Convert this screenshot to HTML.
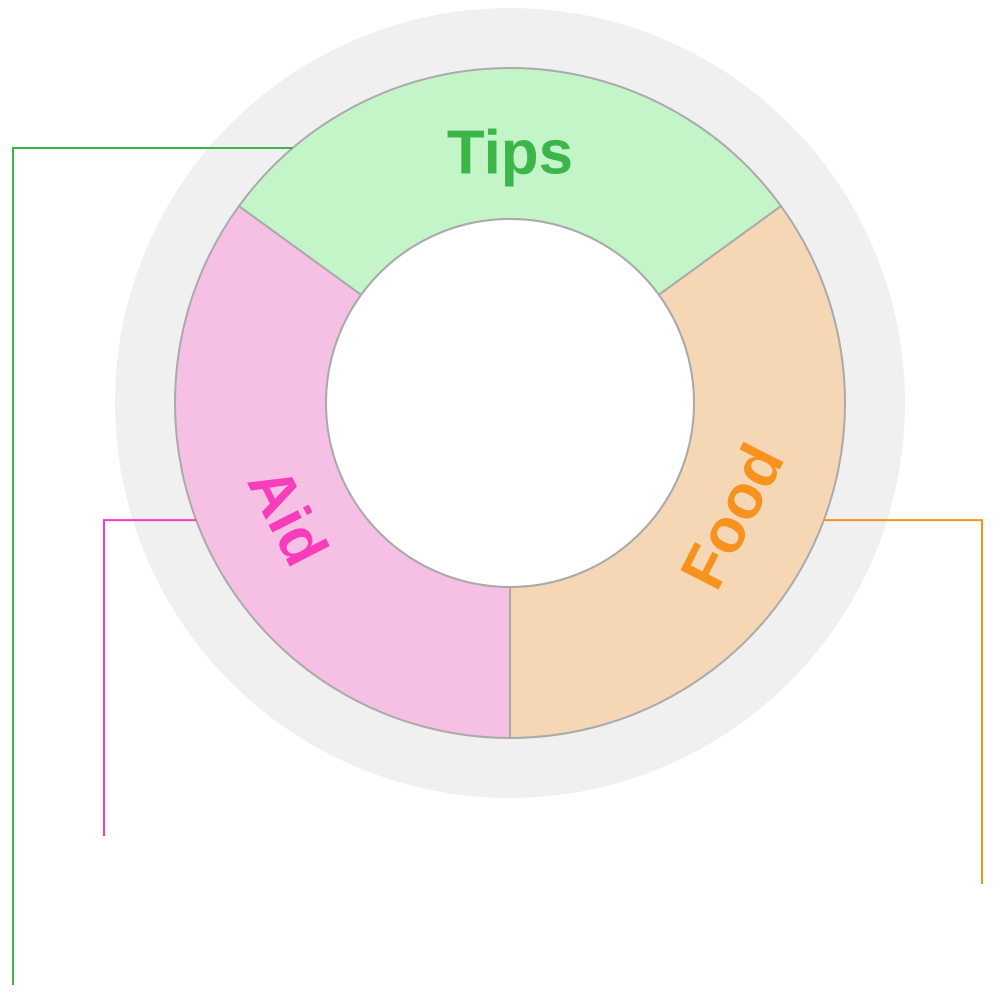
<!DOCTYPE html>
<html><head><meta charset="utf-8"><style>
html,body{margin:0;padding:0;background:#fff;}
svg{display:block;}
text{font-family:"Liberation Sans",Arial,sans-serif;font-weight:bold;}
</style></head><body>
<svg id="chart" width="1000" height="1000" viewBox="0 0 1000 1000" xmlns="http://www.w3.org/2000/svg">
<circle cx="510" cy="403" r="395" fill="#eff0ef"/>
<g id="slices"></g>
<circle cx="510" cy="403" r="184" fill="#ffffff" stroke="#aaaaaa" stroke-width="2"/>
<g id="labels"></g>
</svg>
<script>
const categories = ["Aid", "Tips", "Food"];
const values = [35, 30, 35];
const fills = ["#f6c0e5", "#c4f5c9", "#f6d7b5"];
const textColors = ["#f73cbc", "#3cb54a", "#f7921e"];
const leaderX = [104, 13, 982];
const leaderEndY = [836, 985, 884];

const cx = 510, cy = 403, R = 335, r = 184, labelR = 250, leaderR = 258;
const startDeg = 180;
const NS = "http://www.w3.org/2000/svg";
const total = values.reduce((a, b) => a + b, 0);
function pt(deg, rad) { const a = deg * Math.PI / 180; return [cx + rad * Math.sin(a), cy - rad * Math.cos(a)]; }
const gS = document.getElementById("slices"), gL = document.getElementById("labels");
let acc = startDeg;
categories.forEach((c, i) => {
  const sweep = values[i] / total * 360;
  const a0 = acc, a1 = acc + sweep; acc = a1;
  const large = sweep > 180 ? 1 : 0;
  const [x0, y0] = pt(a0, R), [x1, y1] = pt(a1, R), [x2, y2] = pt(a1, r), [x3, y3] = pt(a0, r);
  const p = document.createElementNS(NS, "path");
  p.setAttribute("d", `M${x0},${y0} A${R},${R} 0 ${large} 1 ${x1},${y1} L${x2},${y2} A${r},${r} 0 ${large} 0 ${x3},${y3} Z`);
  p.setAttribute("fill", fills[i]); p.setAttribute("stroke", "#aaaaaa"); p.setAttribute("stroke-width", "2");
  
  
  gS.appendChild(p);
  const mid = (a0 + a1) / 2;
  const [lx, ly] = pt(mid, labelR);
  let rot = mid % 360; if (rot > 90 && rot < 270) rot -= 180; if (rot >= 270) rot -= 360;
  const t = document.createElementNS(NS, "text");
  t.setAttribute("x", lx); t.setAttribute("y", ly);
  t.setAttribute("text-anchor", "middle"); t.setAttribute("dominant-baseline", "central");
  t.setAttribute("font-size", "62"); t.setAttribute("fill", textColors[i]);
  t.setAttribute("transform", `rotate(${rot} ${lx} ${ly})`);
  t.textContent = c;
  
  
  gL.appendChild(t);
  const ey = pt(mid, leaderR)[1] + (Math.abs(mid % 360 - 0) < 1 || Math.abs(mid % 360 - 360) < 1 ? 3 : 0);
  const side = leaderX[i] < cx ? -1 : 1;
  const ex = cx + side * Math.sqrt(Math.max(0, R * R - (ey - cy) * (ey - cy)));
  const l = document.createElementNS(NS, "polyline");
  l.setAttribute("points", `${ex},${ey} ${leaderX[i]},${ey} ${leaderX[i]},${leaderEndY[i]}`);
  l.setAttribute("fill", "none"); l.setAttribute("stroke", textColors[i]); l.setAttribute("stroke-width", "2");
  
  
  gL.appendChild(l);
});
</script>
</body></html>
